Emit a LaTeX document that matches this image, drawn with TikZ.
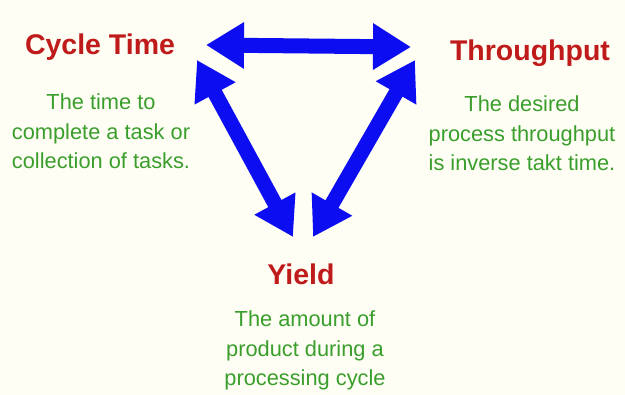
\documentclass[tikz,border=0pt]{standalone}
\usepackage{fontspec}
\setmainfont{Liberation Sans}
\usepackage{xcolor}
\usetikzlibrary{arrows.meta, positioning}
\definecolor{paper}{HTML}{FEFEF4}
\definecolor{titlered}{HTML}{C01B1B}
\definecolor{descgreen}{HTML}{3A9E2C}
\definecolor{arrowblue}{HTML}{0D0DF2}

\begin{document}
\begin{tikzpicture}[
  x=1pt, y=-1pt,
  title/.style={anchor=base, inner sep=0pt, text=titlered,
                font=\fontsize{28.5}{30}\selectfont\bfseries},
  % base anchor of a multi-line node sits on its last line
  desc/.style={anchor=base, inner sep=0pt, align=center, text=descgreen,
               font=\fontsize{21.8}{29.5}\selectfont},
  bigarrow/.style={line width=15pt, draw=arrowblue,
                   {Triangle[length=38pt,width=44pt]}-{Triangle[length=38pt,width=44pt]}}
]

% Background sheet
\fill[paper] (0,0) rectangle (625,395);
\useasboundingbox (0,0) rectangle (625,395);

% Three corners: titles
\node[title] (cycle) at (100,55) {Cycle Time};
\node[title] (thru) at (530,61) {Throughput};
\node[title] (yield) at (301,285) {Yield};

% Descriptions under each title
\node[desc] (cycledesc) at (101,169) {The time to\\ complete a task or\\ collection of tasks.};
\node[desc] (thrudesc) at (522,171) {The desired\\ process throughput\\ is inverse takt time.};
\node[desc] (yielddesc) at (305,386) {The amount of\\ product during a\\ processing cycle};

% Arrow tips of the triangle
\coordinate (ctTop) at (206,45);
\coordinate (tpTop) at (411,47);
\coordinate (ctSide) at (197,60);
\coordinate (ydLeft) at (293,237);
\coordinate (tpSide) at (415,60);
\coordinate (ydRight) at (313,237);

% Edges: two-way links
\draw[bigarrow] (ctTop) -- (tpTop);
\draw[bigarrow] (ctSide) -- (ydLeft);
\draw[bigarrow] (tpSide) -- (ydRight);

\end{tikzpicture}
\end{document}
